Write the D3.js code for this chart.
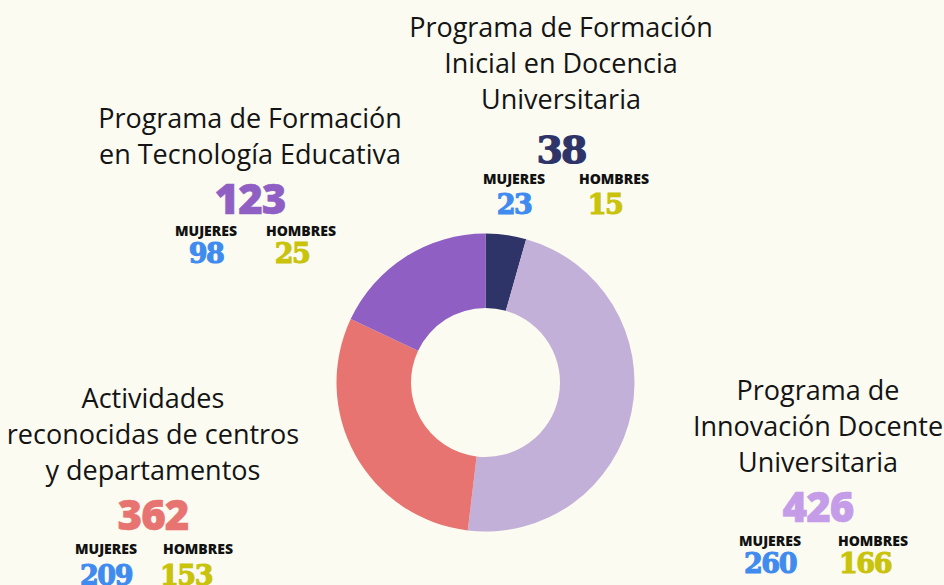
<!DOCTYPE html>
<html>
<head>
<meta charset="utf-8">
<script src="https://cdn.jsdelivr.net/npm/d3@7"></script>
<style>
  body { margin: 0; background: #fbfbf1; }
  svg { display: block; }
</style>
</head>
<body>
<svg id="canvas" width="944" height="585"></svg>
<script>
// data
let programas = [
  ['Programa de Formación', 'Inicial en Docencia', 'Universitaria'],
  ['Programa de', 'Innovación Docente', 'Universitaria'],
  ['Actividades', 'reconocidas de centros', 'y departamentos'],
  ['Programa de Formación', 'en Tecnología Educativa']
]
let totales = [38, 426, 362, 123]
let mujeres = [23, 260, 209, 98]
let hombres = [15, 166, 153, 25]
// share of the ring each slice takes (%)
let sectores = [4.4, 47.5, 30.1, 18.0]

let sliceColors = ['#2e3368', '#c3b0d8', '#e87472', '#8f5fc3']
let numColors = ['#2e3368', '#c49ce8', '#e87472', '#8f5fc3']
let blue = '#3f8bef'
let olive = '#c9c30c'

let canvas = d3.select('#canvas')
canvas.append('rect').attr('width', 944).attr('height', 585).attr('fill', '#fbfbf1')

let cx = 485.5, cy = 382.5

let pie = d3.pie().sort(null).value(d => d)
let arc = d3.arc().innerRadius(74.5).outerRadius(149)

canvas.append('g')
    .attr('transform', `translate(${cx},${cy})`)
    .selectAll('path')
    .data(pie(sectores))
    .enter()
    .append('path')
    .attr('d', arc)
    .attr('fill', (d, i) => sliceColors[i])

// where each label block sits (x center, baseline of first title line)
let layout = [
  {x: 561, y: 37, num: 163, sub: 184, val: 214, mx: 514, hx: 614, hv: 605},
  {x: 818, y: 400, num: 522, sub: 546, val: 573, mx: 770, hx: 873, hv: 865},
  {x: 153, y: 408, num: 530, sub: 554, val: 585, mx: 106, hx: 198, hv: 186},
  {x: 250, y: 128, num: 214, sub: 236, val: 263, mx: 206, hx: 301, hv: 292}
]

let slab = (i) => i === 0

let labels = canvas.selectAll('g.label')
    .data(layout)
    .enter()
    .append('g')
    .attr('class', 'label')
    .attr('text-anchor', 'middle')

labels.each(function (p, i) {
    let g = d3.select(this)
    programas[i].forEach((line, k) => {
        g.append('text')
            .attr('x', p.x)
            .attr('y', p.y + k * 36)
            .attr('font-family', 'Open Sans')
            .attr('font-size', 27)
            .attr('fill', '#141414')
            .text(line)
    })
    g.append('text')
        .attr('x', p.x)
        .attr('y', p.num)
        .attr('font-family', slab(i) ? 'DejaVu Serif' : 'Open Sans')
        .attr('font-weight', 800)
        .attr('font-size', slab(i) ? 38 : 42)
        .attr('letter-spacing', slab(i) ? -2 : -1)
        .attr('fill', numColors[i])
        .attr('stroke', numColors[i])
        .attr('stroke-width', slab(i) ? 1.2 : 0.6)
        .text(totales[i])
    g.append('text')
        .attr('x', p.mx)
        .attr('y', p.sub)
        .attr('font-family', 'Open Sans')
        .attr('font-weight', 800)
        .attr('font-size', 14)
        .attr('fill', '#111')
        .text('MUJERES')
    g.append('text')
        .attr('x', p.hx)
        .attr('y', p.sub)
        .attr('font-family', 'Open Sans')
        .attr('font-weight', 800)
        .attr('font-size', 14)
        .attr('fill', '#111')
        .text('HOMBRES')
    g.append('text')
        .attr('x', p.mx)
        .attr('y', p.val)
        .attr('font-family', 'DejaVu Serif')
        .attr('font-weight', 'bold')
        .attr('font-size', 27)
        .attr('letter-spacing', -1.5)
        .attr('fill', blue)
        .attr('stroke', blue)
        .attr('stroke-width', 1.1)
        .text(mujeres[i])
    g.append('text')
        .attr('x', p.hv)
        .attr('y', p.val)
        .attr('font-family', 'DejaVu Serif')
        .attr('font-weight', 'bold')
        .attr('font-size', 27)
        .attr('letter-spacing', -1.5)
        .attr('fill', olive)
        .attr('stroke', olive)
        .attr('stroke-width', 1.1)
        .text(hombres[i])
})
</script>
</body>
</html>
